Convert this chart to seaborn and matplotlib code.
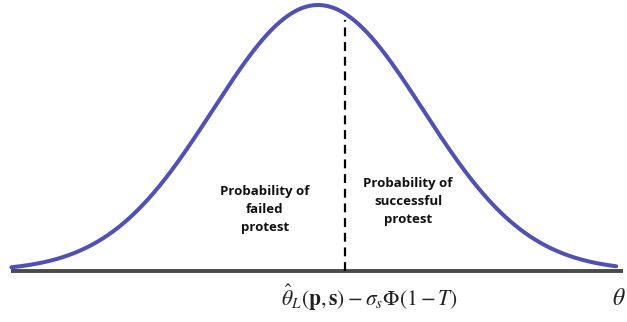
import numpy as np
import matplotlib
matplotlib.use("Agg")
import matplotlib.pyplot as plt
import seaborn as sns
import pandas as pd

# values (standardised theta units)
mean = 0.0
sd = 1.0
theta_min = -2.92
theta_max = 2.84
threshold = 0.257
base_min = -2.92
base_max = 2.90
left_label = "Probability of\nfailed\nprotest"
right_label = "Probability of\nsuccessful\nprotest"
threshold_label = r"$\hat{\theta}_L(\mathbf{p},\mathbf{s})-\sigma_s\Phi(1-T)$"
axis_label = r"$\theta$"

sns.set_theme(style="white")
plt.rcParams["mathtext.fontset"] = "stix"

theta = np.linspace(theta_min, theta_max, 600)
density = np.exp(-0.5 * ((theta - mean) / sd) ** 2)
df = pd.DataFrame({"theta": theta, "density": density})

fig = plt.figure(figsize=(6.27, 3.22), dpi=100)
ax = fig.add_axes([0, 0, 1, 1])

ax.plot([base_min, base_max], [0, 0], color="#4a4a4a", lw=2.8, solid_capstyle="butt", zorder=1)
sns.lineplot(data=df, x="theta", y="density", ax=ax, color="#5151b3", lw=2.9, zorder=3)

top = np.exp(-0.5 * ((threshold - mean) / sd) ** 2) * 0.975
ax.plot([threshold, threshold], [0, top], color="black", lw=1.6, ls=(0, (4, 2.6)), zorder=2)

ax.text(-0.505, 0.232, left_label, ha="center", va="center", fontsize=9.5,
        fontweight="bold", family="Open Sans", linespacing=1.5, color="#111111")
ax.text(0.857, 0.262, right_label, ha="center", va="center", fontsize=9.5,
        fontweight="bold", family="Open Sans", linespacing=1.5, color="#111111")
ax.text(0.495, -0.103, threshold_label, ha="center", va="center", fontsize=15.5, color="#222222")
ax.text(2.93, -0.10, axis_label, ha="right", va="center", fontsize=17, color="#222222")

ax.set_xlim(-318 / 105, (627 - 318) / 105)
ax.set_ylim((271 - 322) / 266, 271 / 266)
ax.axis("off")
fig.savefig("out.png", dpi=100)
